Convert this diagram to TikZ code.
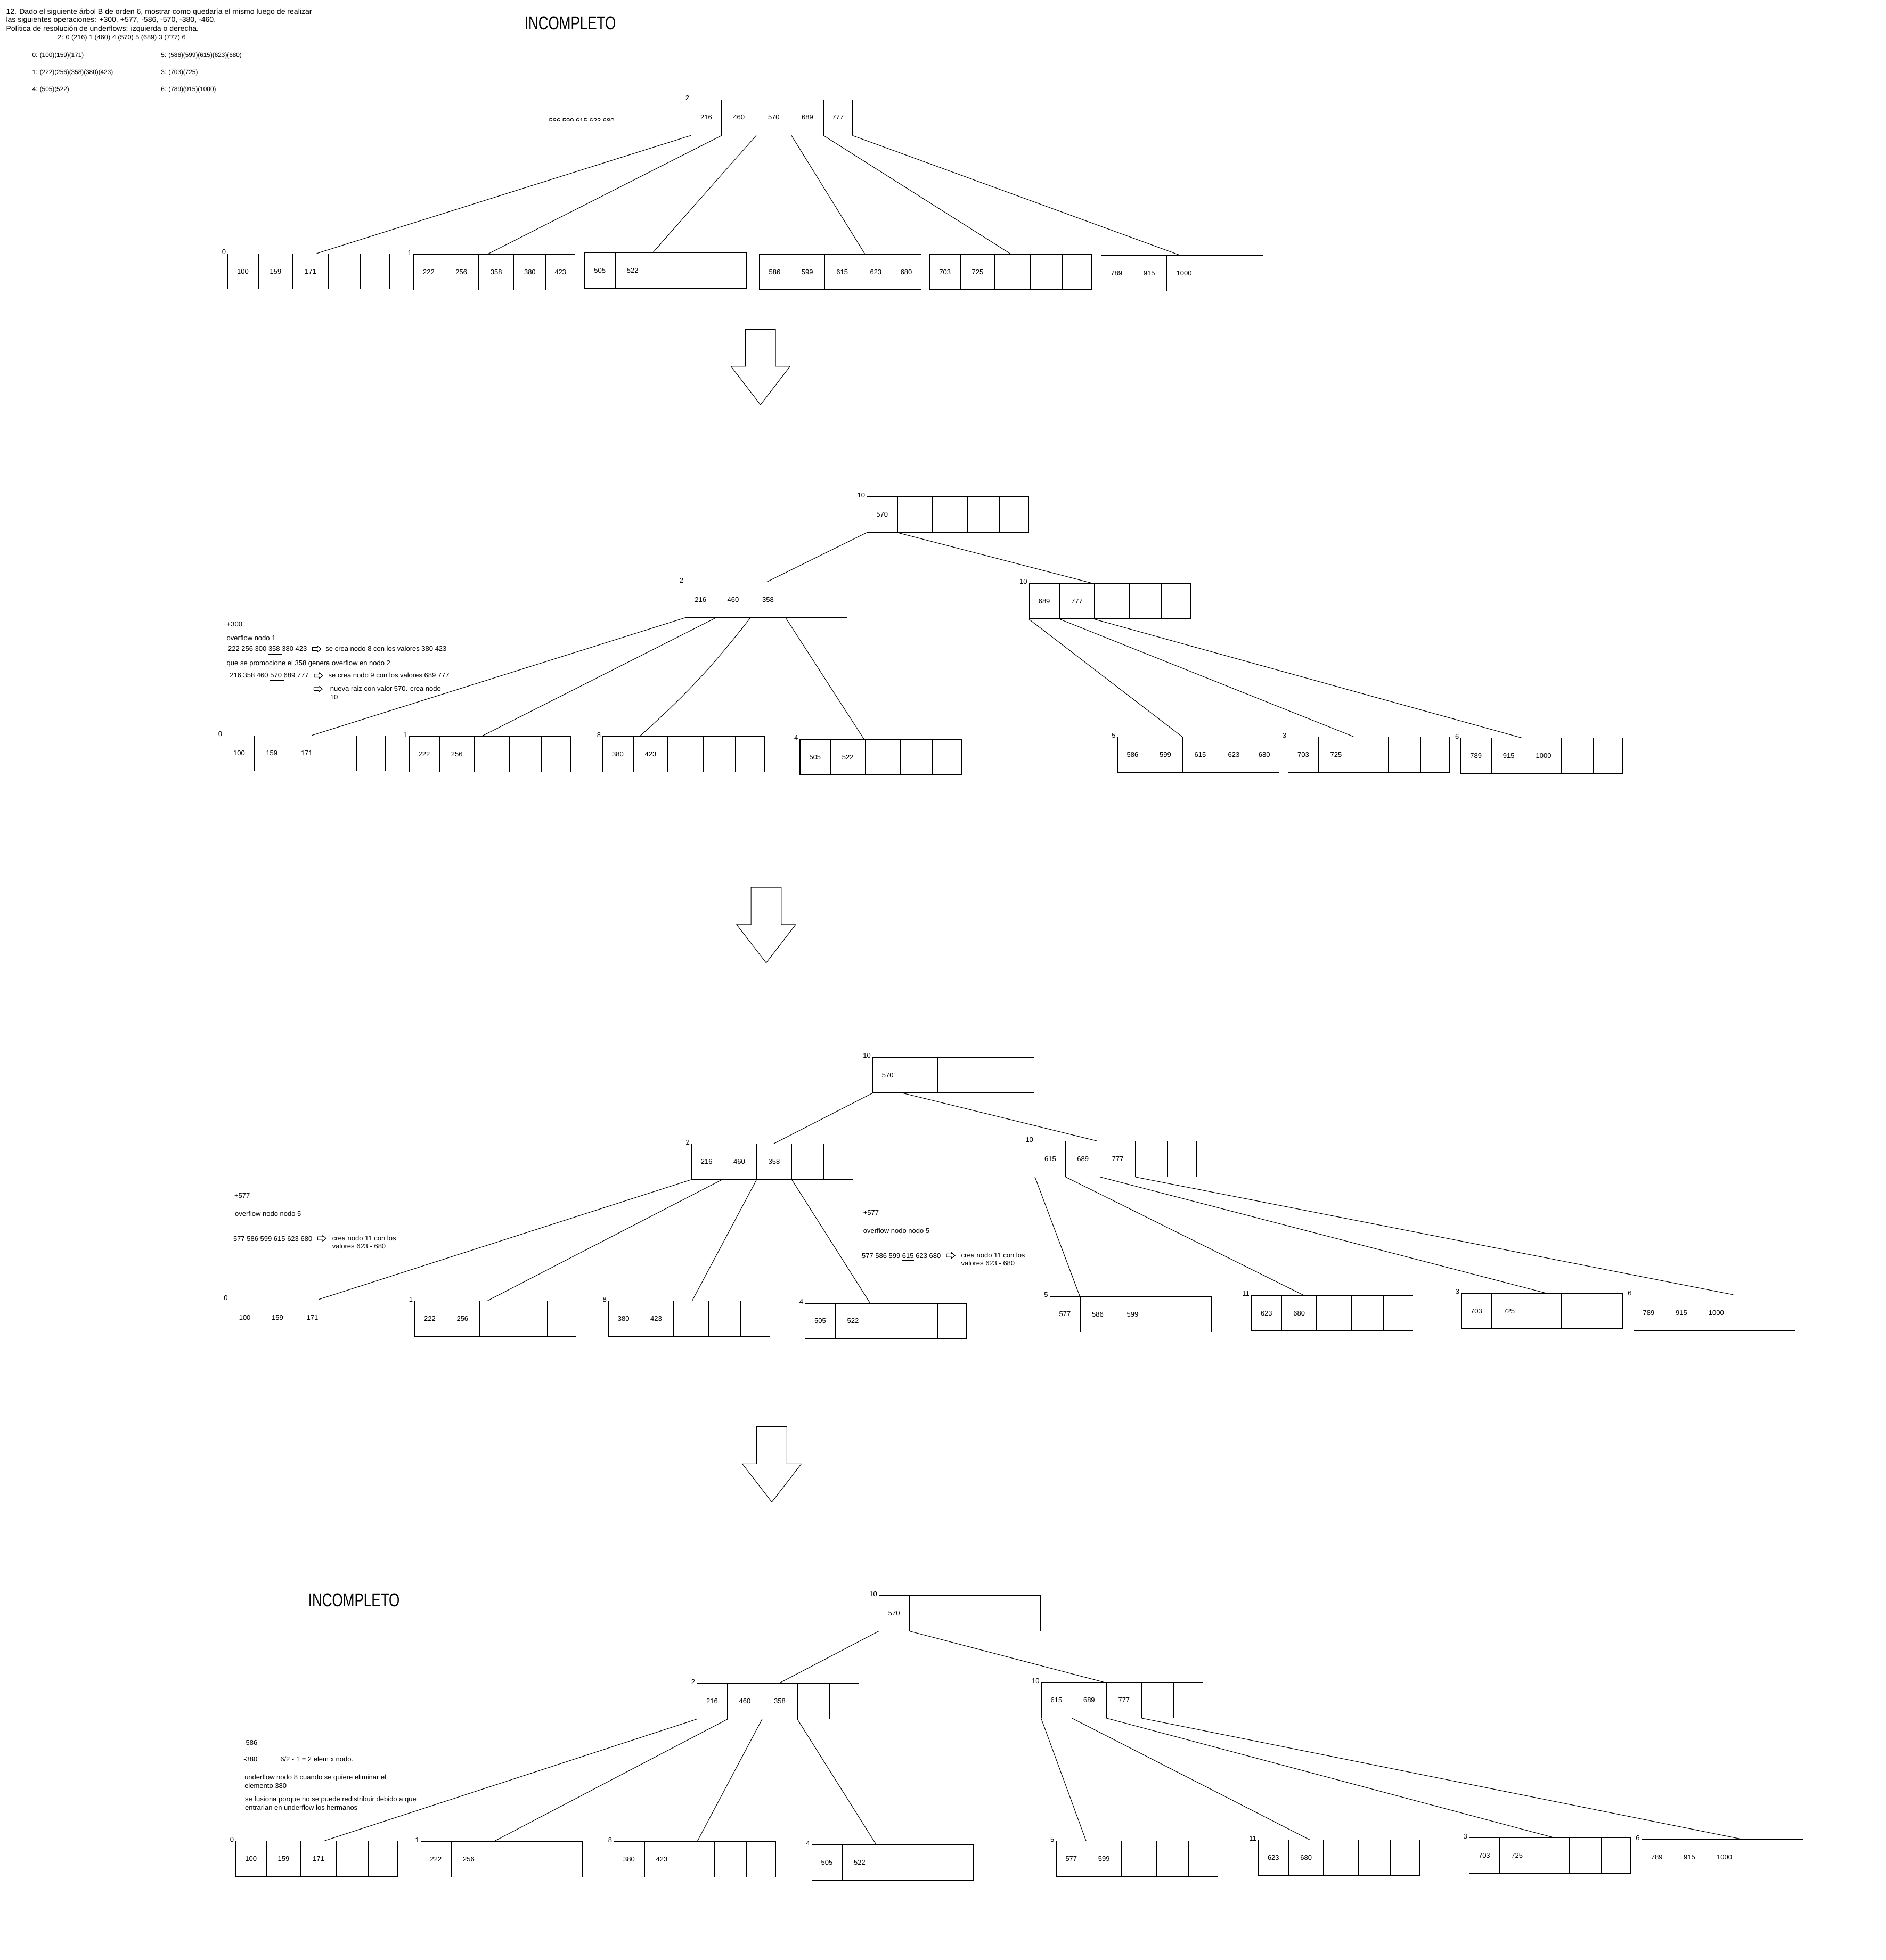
\documentclass[tikz,border=0pt]{standalone}
\usepackage{fontspec}
\setmainfont{Liberation Sans}
\newfontfamily\estrecha[FakeStretch=0.74]{Liberation Sans}
\usetikzlibrary{calc}
\usetikzlibrary{positioning}
\tikzset{nodo/.style={rectangle,draw=black,line width=0.3pt,inner sep=0pt,anchor=north west,minimum width=30.33mm,minimum height=6.66mm}}
\tikzset{valor/.style={inner sep=0pt,font=\fontsize{3.7}{4.4}\selectfont}}
\tikzset{indice/.style={inner sep=0pt,anchor=east,font=\fontsize{3.7}{4.4}\selectfont}}
\tikzset{texto/.style={inner sep=0pt,anchor=west,text height=2.65pt,text depth=0pt,font=\fontsize{3.7}{4.4}\selectfont}}
\tikzset{titulo/.style={inner sep=0pt,anchor=west,font=\estrecha\fontsize{10}{12}\selectfont}}
\tikzset{arista/.style={line width=0.3pt}}
\newcommand{\bajo}[1]{\raisebox{-2pt}{#1}}
\newcommand{\nodoB}[5]{%
  \node[nodo] (#1) at (#3,#4) {};
  \node[indice] (#1-i) at ($(#1.north west)+(-1,-1)$) {#2};
  \foreach \s [count=\k from 0] in {0,24.5,52,80,105.5,128.5}
    \coordinate (#1-\k) at ($(#1.south west)+(\s,0)$);
  \foreach \s in {24.5,52,80,105.5}
    \draw[arista] ($(#1.north west)+(\s,0)$) -- ($(#1.south west)+(\s,0)$);
  \foreach \v [count=\k] in {#5} {
    \pgfmathsetmacro\xc{{12.25,38.25,66,92.75,117}[\k-1]}
    \node[valor] (#1-v\k) at ($(#1.west)+(\xc,0)$) {\v};
  }
}
\newcommand{\flechaG}[2]{%
  \draw[arista] (#1-12,#2) -- (#1+12,#2) -- (#1+12,#2+29.5) -- (#1+23.5,#2+29.5) -- (#1,#2+60) -- (#1-23.5,#2+29.5) -- (#1-12,#2+29.5) -- cycle;
}
\newcommand{\flechita}[2]{%
  \draw[arista] (#1,#2-1.25) -- (#1+4,#2-1.25) -- (#1+4,#2-2.25) -- (#1+6.8,#2) -- (#1+4,#2+2.25) -- (#1+4,#2+1.25) -- (#1,#2+1.25) -- cycle;
}

\begin{document}
\begin{tikzpicture}[x=0.236mm,y=-0.236mm]

\fill[white] (0,0) rectangle (1500,1559.3);
\useasboundingbox (0,0) rectangle (1500,1559.3);

\node[texto,font=\fontsize{4}{4.8}\selectfont] (enc1) at (4.6,9.3) {12. Dado el siguiente árbol B de orden 6, mostrar como quedaría el mismo luego de realizar};
\node[texto,font=\fontsize{4}{4.8}\selectfont] (enc2) at (4.6,15.7) {las siguientes operaciones: +300, +577, -586, -570, -380, -460.};
\node[texto,font=\fontsize{4}{4.8}\selectfont] (enc3) at (4.6,22.9) {Política de resolución de underflows: izquierda o derecha.};
\node[texto,font=\fontsize{3.6}{4.3}\selectfont] (enc4) at (45.6,29.8) {2: 0 (216) 1 (460) 4 (570) 5 (689) 3 (777) 6};
\node[texto,font=\fontsize{3.35}{4}\selectfont] (enc5) at (25.4,43.4) {0: (100)(159)(171)};
\node[texto,font=\fontsize{3.35}{4}\selectfont] (enc6) at (127.8,43.4) {5: (586)(599)(615)(623)(680)};
\node[texto,font=\fontsize{3.35}{4}\selectfont] (enc7) at (25.4,57.3) {1: (222)(256)(358)(380)(423)};
\node[texto,font=\fontsize{3.35}{4}\selectfont] (enc8) at (127.8,57.3) {3: (703)(725)};
\node[texto,font=\fontsize{3.35}{4}\selectfont] (enc9) at (25.4,70.8) {4: (505)(522)};
\node[texto,font=\fontsize{3.35}{4}\selectfont] (enc10) at (127.8,70.8) {6: (789)(915)(1000)};
\node[titulo] (inc1) at (417,18.3) {INCOMPLETO};
\begin{scope}
  \clip (430,90) rectangle (495,96);
  \node[texto,anchor=north west] (resto) at (436.4,93.9) {586 599 615 623 680};
\end{scope}

\nodoB{T1r}{2}{549.6}{79.1}{216,460,570,689,777}
\nodoB{T1h1}{0}{181}{201.6}{100,159,171}
\nodoB{T1h2}{1}{328.8}{202.3}{222,256,358,380,423}
\nodoB{T1h3}{}{465}{200.8}{505,522}
\nodoB{T1h4}{}{604}{202}{586,599,615,623,680}
\nodoB{T1h5}{}{739.5}{202}{703,725}
\nodoB{T1h6}{}{876}{203}{789,\bajo{915},1000}
\foreach \p/\h/\d in {0/h1/71,1/h2/58.9,2/h3/54.5,3/h4/84,4/h5/64.5,5/h6/62.6}
  \draw[arista] (T1r-\p) -- ($(T1\h.north west)+(\d,0)$);

\flechaG{605}{262}

\nodoB{T2r}{10}{689.5}{395}{570}
\nodoB{T2i}{2}{545}{462.8}{216,460,358}
\nodoB{T2d}{10}{818.5}{463.9}{689,777}
\nodoB{T2h1}{0}{178}{585}{100,159,171}
\nodoB{T2h2}{1}{325.2}{585.7}{222,256}
\nodoB{T2h3}{8}{479.3}{585.7}{380,423}
\nodoB{T2h4}{4}{636.2}{588}{505,522}
\nodoB{T2h5}{5}{888.8}{586}{586,599,615,623,680}
\nodoB{T2h6}{3}{1024.6}{586}{703,725}
\nodoB{T2h7}{6}{1162}{587}{789,\bajo{915},1000}
\draw[arista] (T2r-0) -- ($(T2i.north west)+(65.3,0)$);
\draw[arista] (T2r-1) -- ($(T2d.north west)+(50.1,0)$);
\foreach \p/\h/\d in {0/h1/70.2,1/h2/58,3/h4/51.1}
  \draw[arista] (T2i-\p) -- ($(T2\h.north west)+(\d,0)$);
\draw[arista] (T2i-2) to[bend left=5] ($(T2h3.north west)+(29.7,0)$);
\foreach \p/\h/\d in {0/h5/51.5,1/h6/52.1,2/h7/48.5}
  \draw[arista] (T2d-\p) -- ($(T2\h.north west)+(\d,0)$);

\node[texto] (n1) at (180.1,496.5) {+300};
\node[texto] (n2) at (180.1,507.5) {overflow nodo 1};
\node[texto] (n3) at (181.1,516.2) {222 256 300 \underline{358\ }380 423};
\flechita{248.6}{516.3}
\node[texto] (n4) at (258.8,516.2) {se crea nodo 8 con los valores 380 423};
\node[texto] (n5) at (180.1,527.5) {que se promocione el 358 genera overflow en nodo 2};
\node[texto] (n6) at (182.5,537.4) {216 358 460 \underline{570\ }689 777};
\flechita{250}{537.5}
\node[texto] (n7) at (261,537.4) {se crea nodo 9 con los valores 689 777};
\flechita{249.7}{548.2}
\node[texto] (n8) at (262.4,548) {nueva raiz con valor 570. crea nodo};
\node[texto] (n9) at (262.4,554.7) {10};

\flechaG{609.5}{706}

\nodoB{T3r}{10}{694}{841}{570}
\nodoB{T3i}{2}{549.9}{909.8}{216,460,358}
\nodoB{T3d}{10}{823.3}{907.7}{615,689,777}
\nodoB{T3h1}{0}{182.5}{1033.8}{100,159,171}
\nodoB{T3h2}{1}{329.7}{1034.7}{222,256}
\nodoB{T3h3}{8}{483.8}{1034.7}{380,423}
\nodoB{T3h4}{4}{640.3}{1036.7}{505,522}
\nodoB{T3h5}{5}{835}{1031.2}{577,\bajo{586},599}
\nodoB{T3h6}{11}{995.3}{1030.4}{623,680}
\nodoB{T3h7}{3}{1162.3}{1028.7}{703,725}
\nodoB{T3h8}{6}{1299.4}{1030}{789,\bajo{915},1000}
\draw[arista] (T3r-0) -- ($(T3i.north west)+(65.7,0)$);
\draw[arista] (T3r-1) -- ($(T3d.north west)+(49.5,0)$);
\foreach \p/\h/\d in {0/h1/71,1/h2/58.3,2/h3/66.9,3/h4/51.9}
  \draw[arista] (T3i-\p) -- ($(T3\h.north west)+(\d,0)$);
\foreach \p/\h/\d in {0/h5/24,1/h6/41.7,2/h7/67.4,3/h8/79.5}
  \draw[arista] (T3d-\p) -- ($(T3\h.north west)+(\d,0)$);

\node[texto] (m1) at (186.2,951) {+577};
\node[texto] (m2) at (186.6,965.5) {overflow nodo nodo 5};
\node[texto] (m3) at (185.3,985.4) {577 586 599 \underline{615} 623 680};
\flechita{252.7}{985.2}
\node[texto] (m4) at (264,984.9) {crea nodo 11 con los};
\node[texto] (m5) at (264,991.4) {valores 623 - 680};
\node[texto] (m6) at (686.5,964.8) {+577};
\node[texto] (m7) at (686.5,979.3) {overflow nodo nodo 5};
\node[texto] (m8) at (685.3,998.9) {577 586 599 \underline{615} 623 680};
\flechita{753}{998.8}
\node[texto] (m9) at (764.4,998.7) {crea nodo 11 con los};
\node[texto] (m10) at (764.4,1005.2) {valores 623 - 680};

\flechaG{614}{1135}

\node[titulo] (inc2) at (245,1273) {INCOMPLETO};
\nodoB{T4r}{10}{699.1}{1269}{570}
\nodoB{T4i}{2}{554.3}{1339}{216,460,358}
\nodoB{T4d}{10}{828.2}{1338.2}{615,689,777}
\nodoB{T4h1}{0}{187.4}{1464.4}{100,159,171}
\nodoB{T4h2}{1}{334.6}{1464.9}{222,256}
\nodoB{T4h3}{8}{488.2}{1464.9}{380,423}
\nodoB{T4h4}{4}{645.6}{1467.4}{505,522}
\nodoB{T4h5}{5}{840}{1464.5}{577,599}
\nodoB{T4h6}{11}{1000.8}{1463.7}{623,680}
\nodoB{T4h7}{3}{1168.6}{1462}{703,725}
\nodoB{T4h8}{6}{1305.8}{1463.2}{789,\bajo{915},1000}
\draw[arista] (T4r-0) -- ($(T4i.north west)+(65.7,0)$);
\draw[arista] (T4r-1) -- ($(T4d.north west)+(49.7,0)$);
\foreach \p/\h/\d in {0/h1/70.9,1/h2/58.4,2/h3/66.5,3/h4/51.4}
  \draw[arista] (T4i-\p) -- ($(T4\h.north west)+(\d,0)$);
\foreach \p/\h/\d in {0/h5/24,1/h6/41.2,2/h7/67.8,3/h8/80}
  \draw[arista] (T4d-\p) -- ($(T4\h.north west)+(\d,0)$);

\node[texto] (k1) at (193.5,1386.4) {-586};
\node[texto] (k2) at (193.5,1399.3) {-380};
\node[texto] (k3) at (222.7,1399.3) {6/2 - 1 = 2 elem x nodo.};
\node[texto] (k4) at (194.3,1413.8) {underflow nodo 8 cuando se quiere eliminar el};
\node[texto] (k5) at (194.3,1420.5) {elemento 380};
\node[texto] (k6) at (194.7,1431.2) {se fusiona porque no se puede redistribuir debido a que};
\node[texto] (k7) at (194.7,1437.9) {entrarian en underflow los hermanos};

\end{tikzpicture}
\end{document}
